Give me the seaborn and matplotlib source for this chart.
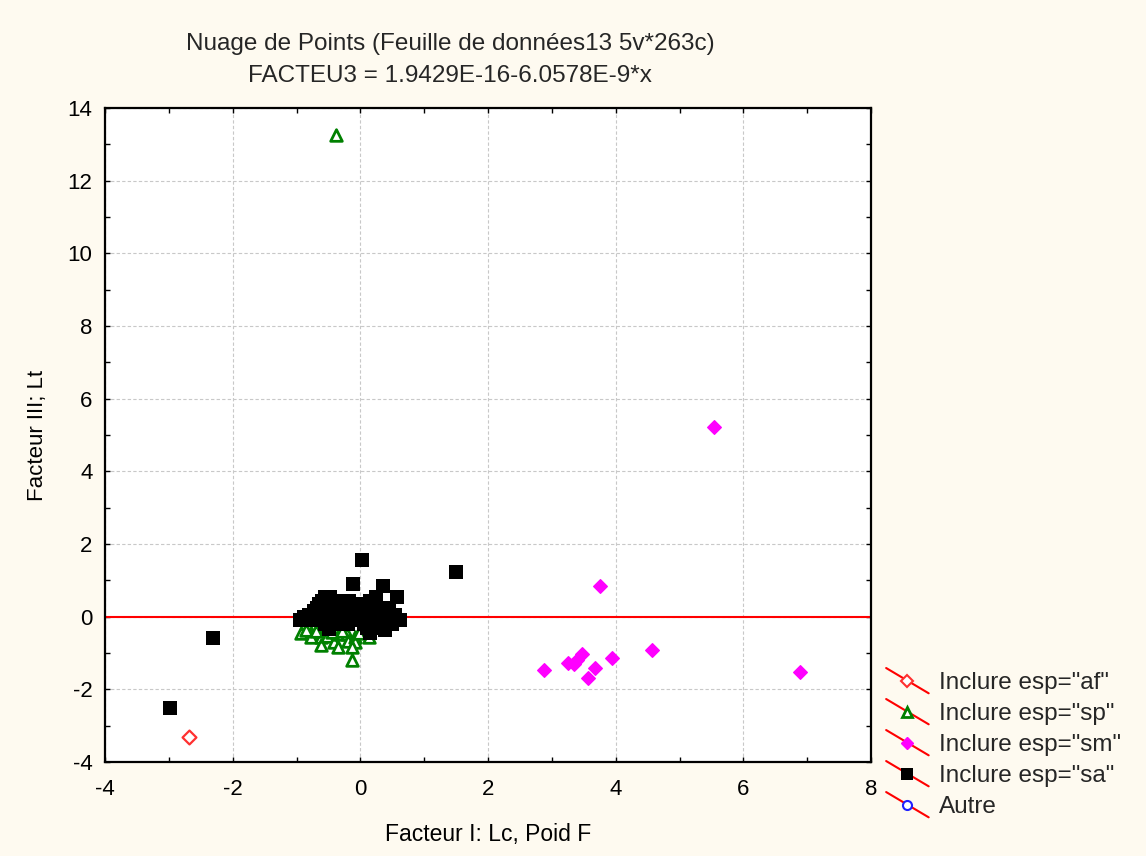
import numpy as np
import pandas as pd
import matplotlib
matplotlib.use("Agg")
import matplotlib.pyplot as plt
import seaborn as sns
from matplotlib.legend_handler import HandlerBase
from matplotlib.lines import Line2D
from matplotlib.ticker import MultipleLocator

# ---------------- data ----------------
af_x = [-2.68]
af_y = [-3.30]

sp_x = [-0.38, -0.93, -0.77, -0.77, -0.62, -0.62, -0.53, -0.41, -0.35, -0.33,
        -0.21, -0.19, -0.08, -0.08, -0.13, -0.13, 0.13, -0.85, -0.70, -0.45,
        -0.28, -0.02]
sp_y = [13.26, -0.44, -0.44, -0.57, -0.55, -0.78, -0.53, -0.69, -0.84, -0.48,
        -0.48, -0.66, -0.55, -0.69, -0.83, -1.18, -0.55, -0.38, -0.40, -0.42,
        -0.40, -0.45]

sm_x = [5.54, 3.75, 2.88, 3.26, 3.34, 3.39, 3.48, 3.67, 3.57, 3.95, 4.57, 6.88]
sm_y = [5.22, 0.84, -1.47, -1.27, -1.30, -1.19, -1.03, -1.42, -1.70, -1.15, -0.92, -1.53]

sa_x = [-0.95, -0.85, -0.75, -0.65, -0.55, -0.45, -0.35, -0.25, -0.15, -0.05,
        0.05, 0.15, 0.25, 0.35, 0.45, 0.55, 0.62,
        -0.88, -0.70, -0.52, -0.30, -0.10, 0.10, 0.30, 0.50,
        -0.80, -0.62, -0.40, -0.20, 0.00, 0.20, 0.40, 0.55,
        -0.72, -0.55, -0.38, -0.22, -0.05, 0.12, 0.28, 0.45,
        -0.68, -0.50, -0.30, -0.15, 0.05, 0.20, 0.35,
        -0.65, -0.45, -0.25, -0.10, 0.10, 0.25,
        -0.60, -0.28, -0.18, 0.15, 0.22,
        -0.55, -0.48, 0.24,
        -0.55, -0.40, -0.20, 0.05, 0.20, 0.35, 0.50,
        -0.49, 0.10, 0.15, 0.30, 0.39,
        0.15,
        -2.98, -2.31, 1.50, 0.03, -0.11, 0.36, 0.57]
sa_y = [-0.10] * 17 + [-0.02] * 8 + [0.05] * 8 + [0.15] * 8 + [0.25] * 7 + \
       [0.35] * 6 + [0.42] * 5 + [0.55] * 3 + [-0.20] * 7 + \
       [-0.33, -0.30, -0.30, -0.32, -0.36] + [-0.44] + \
       [-2.51, -0.59, 1.23, 1.56, 0.90, 0.84, 0.53]

fit_intercept = 1.9429e-16
fit_slope = -6.0578e-9

labels = ['Inclure esp="af"', 'Inclure esp="sp"', 'Inclure esp="sm"',
          'Inclure esp="sa"', 'Autre']

title1 = "Nuage de Points (Feuille de données13 5v*263c)"
title2 = "FACTEU3 = 1.9429E-16-6.0578E-9*x"
xlabel = "Facteur I: Lc, Poid F"
ylabel = "Facteur III; Lt"

# ---------------- style ----------------
sns.set_theme(style="white")
plt.rcParams['font.family'] = ['Liberation Sans', 'DejaVu Sans']
plt.rcParams['axes.unicode_minus'] = False
bg = '#FEFAF0'

fig = plt.figure(figsize=(11.46, 8.56), dpi=100, facecolor=bg)
ax = fig.add_axes([105 / 1146, 1 - 762 / 856, 766 / 1146, 654 / 856])
ax.set_facecolor('white')

ax.set_xlim(-4, 8)
ax.set_ylim(-4, 14)
ax.xaxis.set_major_locator(MultipleLocator(2))
ax.xaxis.set_minor_locator(MultipleLocator(1))
ax.yaxis.set_major_locator(MultipleLocator(2))
ax.yaxis.set_minor_locator(MultipleLocator(1))
ax.grid(True, which='major', color='#c8c8c8', linestyle=(0, (3, 2)), linewidth=0.8)
ax.set_axisbelow(True)

# regression line
fx = np.array([-4.0, 8.0])
fy = fit_intercept + fit_slope * fx
sns.lineplot(x=fx, y=fy, ax=ax, color='red', linewidth=1.5, zorder=2)

df_af = pd.DataFrame({'x': af_x, 'y': af_y})
df_sp = pd.DataFrame({'x': sp_x, 'y': sp_y})
df_sm = pd.DataFrame({'x': sm_x, 'y': sm_y})
df_sa = pd.DataFrame({'x': sa_x, 'y': sa_y})

sns.scatterplot(data=df_af, x='x', y='y', ax=ax, marker='D', s=50,
                facecolor='white', edgecolor='#ff3030', linewidth=1.6, zorder=3)
sns.scatterplot(data=df_sp, x='x', y='y', ax=ax, marker='^', s=70,
                facecolor='white', edgecolor='#008000', linewidth=2.0, zorder=3)
sns.scatterplot(data=df_sm, x='x', y='y', ax=ax, marker='D', s=48,
                color='#ff00ff', edgecolor='#ff00ff', linewidth=1, zorder=3)
sns.scatterplot(data=df_sa, x='x', y='y', ax=ax, marker='s', s=88,
                color='black', edgecolor='black', linewidth=0, zorder=4)

for sp in ax.spines.values():
    sp.set_visible(True)
    sp.set_color('black')
    sp.set_linewidth(1.6)

ax.tick_params(which='both', direction='in', top=True, right=True,
               bottom=True, left=True, length=3.5, width=1, color='black')
ax.tick_params(axis='x', which='major', labelsize=16, pad=12, labelcolor='black')
ax.tick_params(axis='y', which='major', labelsize=16, pad=9, labelcolor='black')

ax.set_xlabel(xlabel, fontsize=16.5, labelpad=17, color='black')
ax.set_ylabel(ylabel, fontsize=16, labelpad=14, color='black')

fig.text(450 / 1146, 1 - 44 / 856, title1, ha='center', va='center', fontsize=17.5)
fig.text(450 / 1146, 1 - 76 / 856, title2, ha='center', va='center', fontsize=17.5)


# ---------------- legend ----------------
class DiagHandler(HandlerBase):
    def create_artists(self, legend, orig_handle, xdescent, ydescent,
                       width, height, fontsize, trans):
        cx = -xdescent + width / 2
        cy = -ydescent + height / 2
        dy = 0.52 * fontsize
        line = Line2D([-xdescent, -xdescent + width], [cy + dy, cy - dy],
                      color='red', linewidth=1.5, transform=trans)
        mk = Line2D([cx], [cy], marker=orig_handle.get_marker(),
                    markersize=orig_handle.get_markersize(),
                    markerfacecolor=orig_handle.get_markerfacecolor(),
                    markeredgecolor=orig_handle.get_markeredgecolor(),
                    markeredgewidth=orig_handle.get_markeredgewidth(),
                    linestyle='none', transform=trans)
        return [line, mk]


handles = [
    Line2D([], [], marker='D', markersize=6.5, markerfacecolor='white',
           markeredgecolor='#ff3030', markeredgewidth=1.5, linestyle='none'),
    Line2D([], [], marker='^', markersize=7.5, markerfacecolor='white',
           markeredgecolor='#008000', markeredgewidth=2.0, linestyle='none'),
    Line2D([], [], marker='D', markersize=6.5, markerfacecolor='#ff00ff',
           markeredgecolor='#ff00ff', markeredgewidth=1, linestyle='none'),
    Line2D([], [], marker='s', markersize=9, markerfacecolor='black',
           markeredgecolor='black', markeredgewidth=0, linestyle='none'),
    Line2D([], [], marker='o', markersize=6.5, markerfacecolor='white',
           markeredgecolor='#2020ff', markeredgewidth=1.5, linestyle='none'),
]
leg = fig.legend(handles, labels, loc='upper left',
                 bbox_to_anchor=(874 / 1146, 1 - 660 / 856),
                 frameon=False, fontsize=17.5, handlelength=1.75,
                 handletextpad=0.42, labelspacing=0.37, borderpad=0,
                 handler_map={Line2D: DiagHandler()})

fig.savefig('out.png', dpi=100, facecolor=bg)
